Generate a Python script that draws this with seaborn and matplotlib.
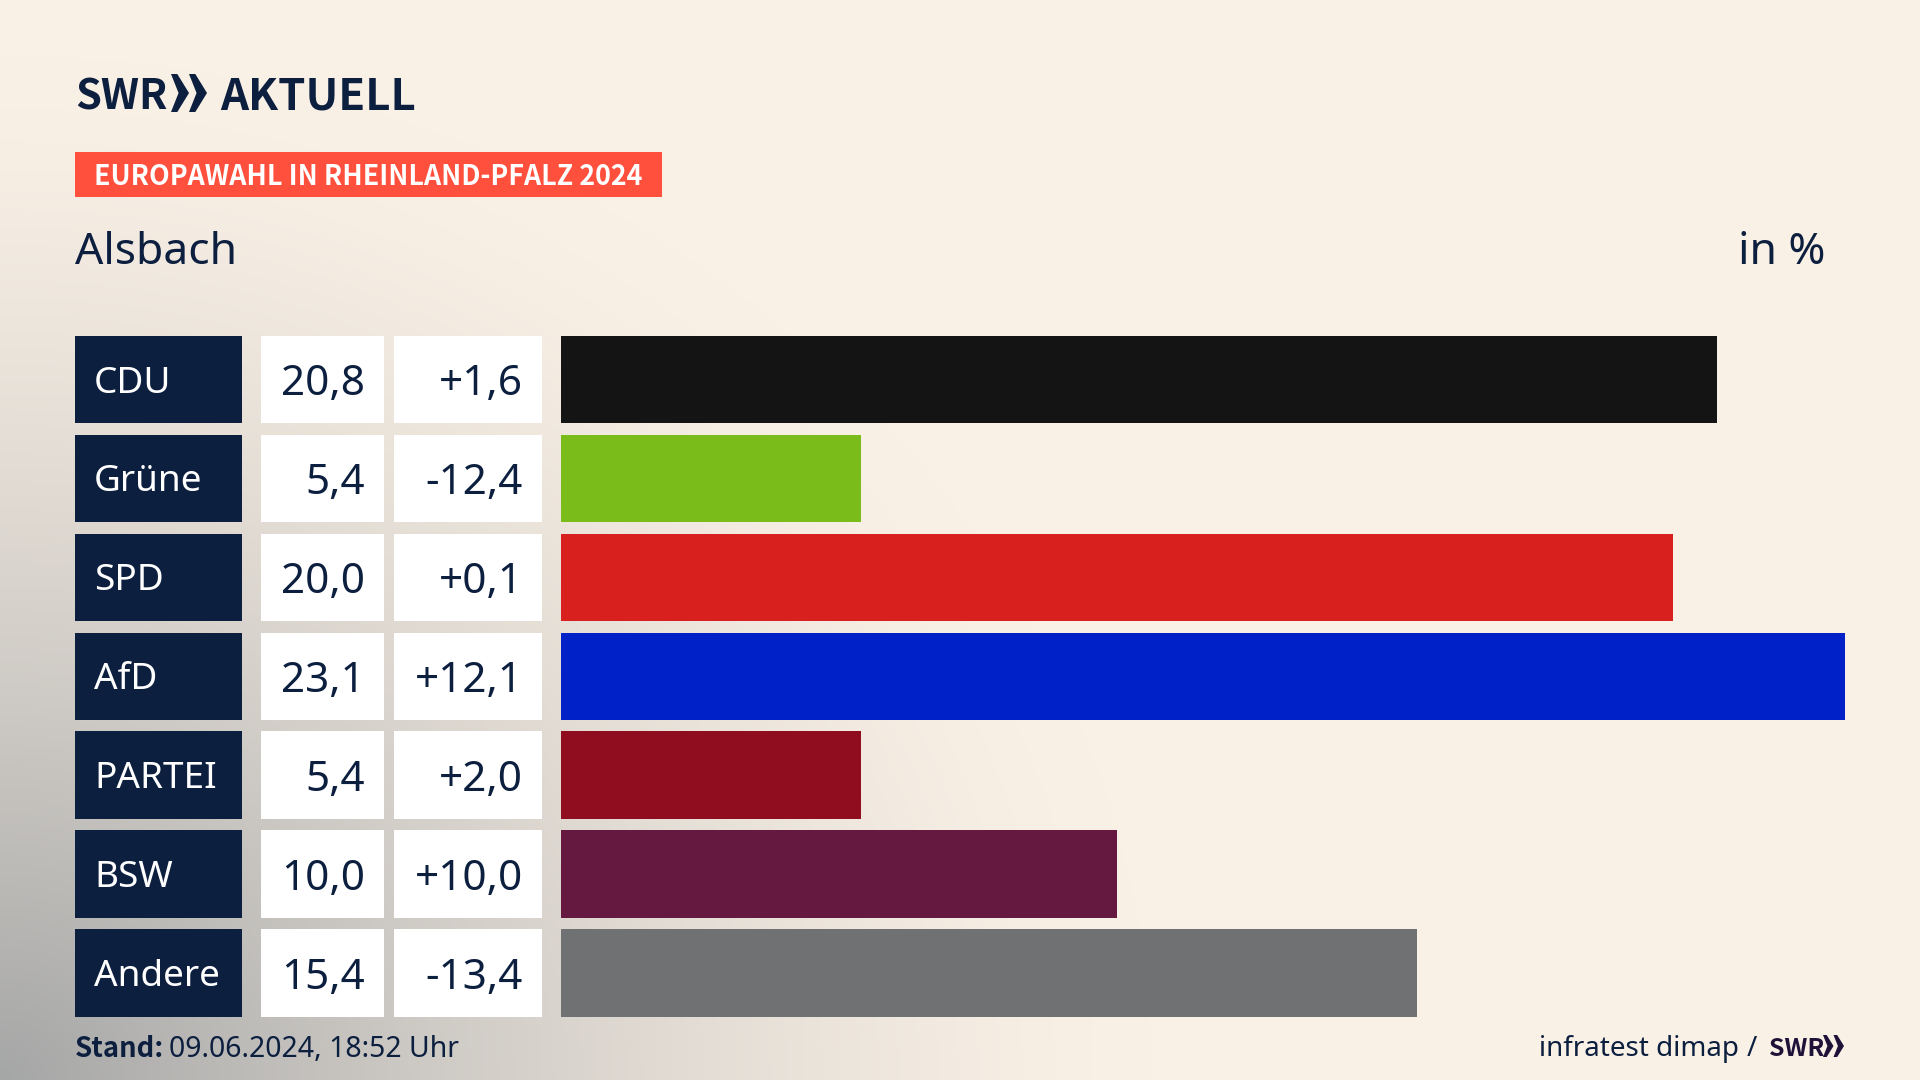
import numpy as np
import pandas as pd
import matplotlib as mpl
mpl.use('Agg')
import matplotlib.pyplot as plt
from matplotlib.patches import Rectangle, Polygon
from matplotlib.transforms import Affine2D, blended_transform_factory
import seaborn as sns

parties = ['CDU', 'Grüne', 'SPD', 'AfD', 'PARTEI', 'BSW', 'Andere']
shares = [20.8, 5.4, 20.0, 23.1, 5.4, 10.0, 15.4]
changes = [1.6, -12.4, 0.1, 12.1, 2.0, 10.0, -13.4]
party_colors = ['#141414', '#7ABD1B', '#D8201F', '#0020C8', '#900D20', '#651840', '#707173']

NAVY = '#0C1F3F'
CREAM = np.array([250, 241, 230]) / 255
SHADE = np.array([165, 166, 166]) / 255
W, H = 1920, 1080
HEAVY = 'Noto Sans CJK SC'

sns.set_theme(style='white')
plt.rcParams['font.family'] = ['Noto Sans', 'DejaVu Sans']

fig = plt.figure(figsize=(W / 100, H / 100), dpi=100)

# background, cream with a soft grey shadow from the lower left corner
bg = fig.add_axes([0, 0, 1, 1], zorder=-1)
xx, yy = np.meshgrid(np.linspace(0, 1, 480), np.linspace(0, 1, 270))
dist = np.sqrt((xx / 0.6) ** 2 + ((1 - yy) / 0.95) ** 2)
shade = np.clip(1 - dist, 0, 1) ** 1.4
bg.imshow(CREAM + (SHADE - CREAM) * shade[..., None], aspect='auto', extent=(0, 1, 1, 0))
bg.axis('off')

# pixel coordinates of the 1920x1080 canvas, y pointing down
px = Affine2D().scale(1 / W, -1 / H).translate(0, 1) + fig.transFigure


def put(x, y, s, size, color=NAVY, weight='normal', ha='left', family=None):
    return fig.text(x, y, s, transform=px, fontsize=size, color=color, fontweight=weight,
                    ha=ha, va='baseline', family=family or plt.rcParams['font.family'])


def chevrons(x, top, bottom, width, color):
    mid = (top + bottom) / 2
    step = width * 0.5
    for off in (0, step):
        pts = [(x + off, top), (x + off + step * 0.35, top), (x + off + step, mid),
               (x + off + step * 0.35, bottom), (x + off, bottom), (x + off + step * 0.42, mid)]
        fig.add_artist(Polygon(pts, closed=True, transform=px, facecolor=color, edgecolor='none'))


# bars
left, right = 560.5, 1845
row_top, row_pitch, row_height = 335.8, 98.9, 87.5
ax_top = row_top + row_height / 2 - row_pitch / 2
ax_bottom = ax_top + row_pitch * len(parties)
ax = fig.add_axes([left / W, 1 - ax_bottom / H, (right - left) / W, (ax_bottom - ax_top) / H])
frame = pd.DataFrame({'party': parties, 'share': shares})
sns.barplot(data=frame, x='share', y='party', hue='party', palette=party_colors, dodge=False,
            legend=False, width=row_height / row_pitch, saturation=1, linewidth=0, ax=ax)
ax.set_xlim(0, max(shares))
ax.set_ylim(len(parties) - 0.5, -0.5)
ax.axis('off')

# table columns left of the bars
cells = blended_transform_factory(px, ax.transData)
half = row_height / row_pitch / 2
for i, (party, share, change) in enumerate(zip(parties, shares, changes)):
    for x0, x1, col in ((75, 242, NAVY), (261, 384, 'white'), (394, 542, 'white')):
        fig.add_artist(Rectangle((x0, i - half), x1 - x0, 2 * half, transform=cells,
                                 facecolor=col, edgecolor='none'))
    fig.text(94, i - 0.005, party, transform=cells, fontsize=26.6, color='white', va='center_baseline')
    fig.text(365, i - 0.002, f'{share:.1f}'.replace('.', ','), transform=cells, fontsize=30.4,
             color=NAVY, ha='right', va='center_baseline')
    fig.text(523, i - 0.002, f'{change:+.1f}'.replace('.', ','), transform=cells, fontsize=30.4,
             color=NAVY, ha='right', va='center_baseline')

# header
put(75, 109, 'SWR', 30, weight='bold', family=HEAVY)
chevrons(171, 74, 112, 36, NAVY)
put(220, 109, 'AKTUELL', 31.5, weight='bold', family=HEAVY)
fig.add_artist(Rectangle((75, 152), 587, 45, transform=px, facecolor='#FF4F3D', edgecolor='none'))
put(94, 185, 'EUROPAWAHL IN RHEINLAND-PFALZ 2024', 19.3, color='white', weight='bold', family=HEAVY)
put(75, 264, 'Alsbach', 32)
put(1825, 264, 'in %', 32, ha='right')

# footer
put(75, 1057, 'Stand:', 19.8, weight='bold', family=HEAVY)
put(169, 1057, '09.06.2024, 18:52 Uhr', 20.45)
put(1539, 1056, 'infratest dimap', 20)
put(1747, 1056, '/', 20)
put(1769, 1056, 'SWR', 18, color='#1E1238', weight='bold', family=HEAVY)
chevrons(1823, 1035, 1057, 21, '#1E1238')

fig.savefig('out.png', dpi=100)
